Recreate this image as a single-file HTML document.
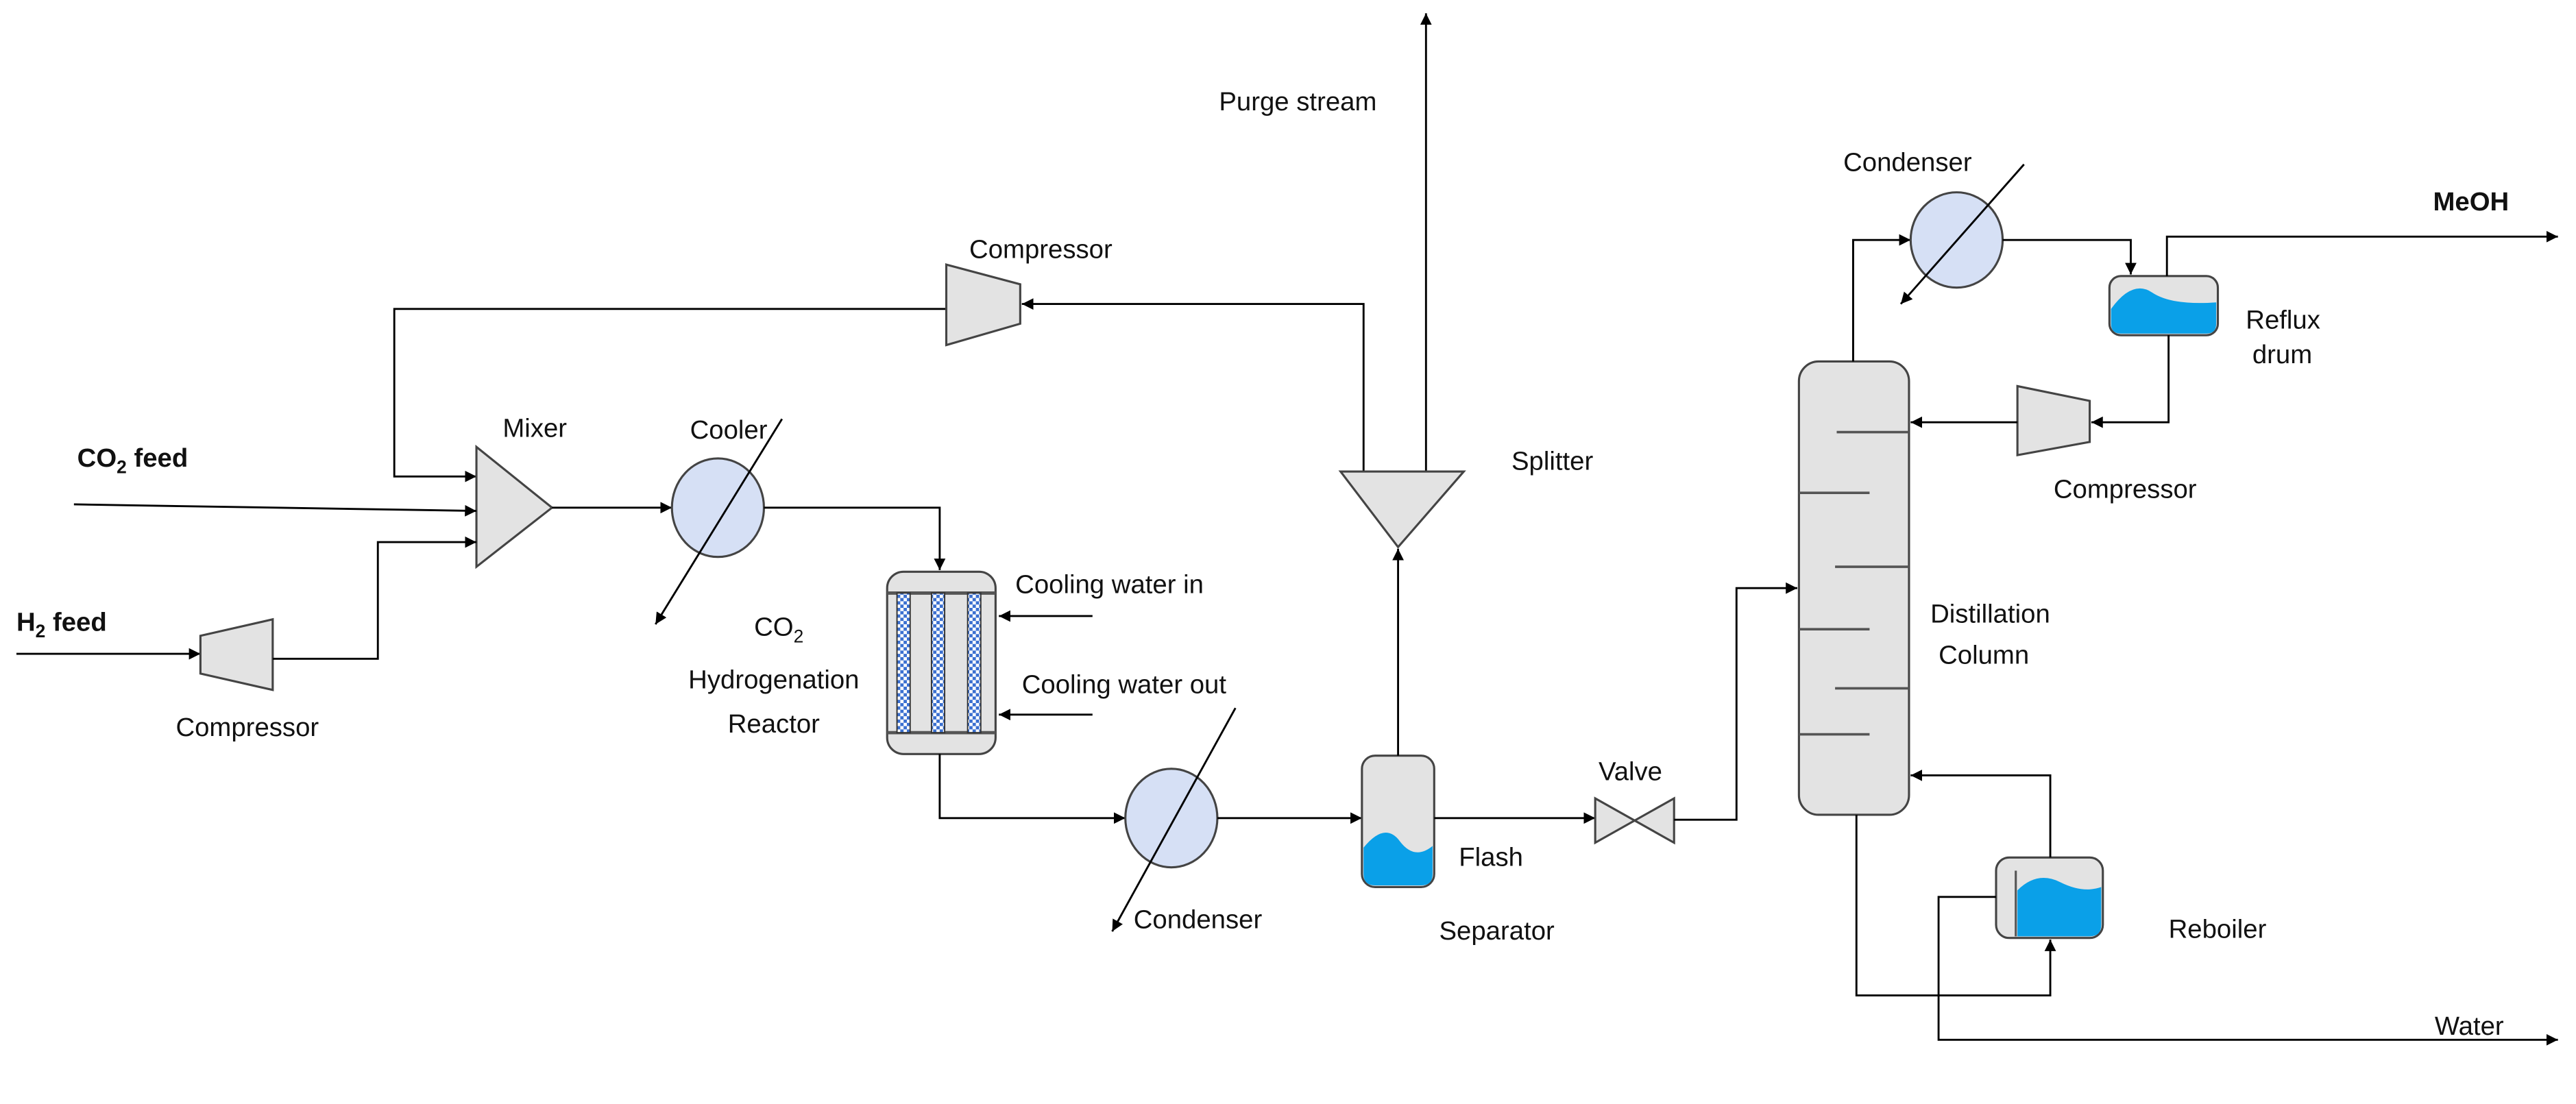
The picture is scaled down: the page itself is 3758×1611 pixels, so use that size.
<!DOCTYPE html>
<html><head><meta charset="utf-8"><style>
html,body{margin:0;padding:0;background:#fff}
svg{display:block}
text{font-family:"Liberation Sans",sans-serif;font-size:16px;fill:#111}
.b{font-weight:bold}
.l{stroke:#000;stroke-width:1.2;fill:none}
.e{fill:#e3e3e3;stroke:#444;stroke-width:1.3}
.h{fill:#d6e0f5;stroke:#444;stroke-width:1.3}
.w{fill:#0aa0e8}
</style></head><body>
<svg width="3758" height="1611" viewBox="0 0 1568 672" xmlns="http://www.w3.org/2000/svg">
<defs>
<marker id="a" viewBox="0 0 10 10" refX="10" refY="5" markerWidth="7" markerHeight="7" markerUnits="userSpaceOnUse" orient="auto"><path d="M0,0L10,5L0,10z" fill="#000"/></marker>
<pattern id="chk" width="4" height="4" patternUnits="userSpaceOnUse"><rect width="4" height="4" fill="#fff"/><rect width="2" height="2" fill="#3a6fd0"/><rect x="2" y="2" width="2" height="2" fill="#3a6fd0"/></pattern>
</defs>

<!-- purge -->
<path class="l" d="M868,287V8" marker-end="url(#a)"/>
<text x="742" y="67">Purge stream</text>
<!-- recycle -->
<path class="l" d="M830,287V185H622" marker-end="url(#a)"/>
<path class="l" d="M576,188H240V290H290" marker-end="url(#a)"/>
<polygon class="e" points="576,161 621,173 621,197 576,210"/>
<text x="590" y="157">Compressor</text>
<!-- mixer -->
<polygon class="e" points="290,272 290,345 336,309"/>
<text x="306" y="266">Mixer</text>
<path class="l" d="M45,307L290,311" marker-end="url(#a)"/>
<text x="47" y="284" class="b">CO<tspan font-size="11" dy="4">2</tspan><tspan dy="-4"> feed</tspan></text>
<!-- H2 -->
<path class="l" d="M10,398H122" marker-end="url(#a)"/>
<text x="10" y="384" class="b">H<tspan font-size="11" dy="4">2</tspan><tspan dy="-4"> feed</tspan></text>
<polygon class="e" points="122,387 166,377 166,420 122,410"/>
<path class="l" d="M166,401H230V330H290" marker-end="url(#a)"/>
<text x="107" y="448">Compressor</text>
<!-- cooler -->
<path class="l" d="M336,309H409" marker-end="url(#a)"/>
<ellipse class="h" cx="437" cy="309" rx="28" ry="30"/>
<path class="l" d="M476,255L399,380" marker-end="url(#a)"/>
<text x="420" y="267">Cooler</text>
<path class="l" d="M465,309H572V347" marker-end="url(#a)"/>
<!-- reactor -->
<rect class="e" x="540" y="348" width="66" height="111" rx="10"/>
<line x1="540" y1="361" x2="606" y2="361" stroke="#555" stroke-width="2"/>
<line x1="540" y1="446" x2="606" y2="446" stroke="#555" stroke-width="2"/>
<rect x="546" y="361" width="8" height="85" fill="url(#chk)" stroke="#333" stroke-width="0.8"/>
<rect x="567" y="361" width="8" height="85" fill="url(#chk)" stroke="#333" stroke-width="0.8"/>
<rect x="589" y="361" width="8" height="85" fill="url(#chk)" stroke="#333" stroke-width="0.8"/>
<text x="459" y="387">CO<tspan font-size="11" dy="4">2</tspan></text>
<text x="471" y="419" text-anchor="middle">Hydrogenation</text>
<text x="471" y="446" text-anchor="middle">Reactor</text>
<path class="l" d="M665,375H608" marker-end="url(#a)"/>
<path class="l" d="M665,435H608" marker-end="url(#a)"/>
<text x="618" y="361">Cooling water in</text>
<text x="622" y="422">Cooling water out</text>
<!-- condenser 1 -->
<path class="l" d="M572,459V498H685" marker-end="url(#a)"/>
<ellipse class="h" cx="713" cy="498" rx="28" ry="30"/>
<path class="l" d="M752,431L677,567" marker-end="url(#a)"/>
<text x="690" y="565">Condenser</text>
<path class="l" d="M741,498H829" marker-end="url(#a)"/>
<!-- flash -->
<rect class="e" x="829" y="460" width="44" height="80" rx="8"/>
<path class="w" d="M830,516Q843,500 852,512T872,515V532Q872,539 865,539H837Q830,539 830,532Z"/>
<text x="888" y="527">Flash</text>
<text x="876" y="572">Separator</text>
<path class="l" d="M851,460V334" marker-end="url(#a)"/>
<!-- splitter -->
<polygon class="e" points="816,287 891,287 851,333"/>
<text x="920" y="286">Splitter</text>
<!-- valve -->
<path class="l" d="M873,498H971" marker-end="url(#a)"/>
<polygon class="e" points="971,486 1019,513 1019,486 971,513"/>
<text x="973" y="475">Valve</text>
<path class="l" d="M1019,499H1057V358H1094" marker-end="url(#a)"/>
<!-- column -->
<rect class="e" x="1095" y="220" width="67" height="276" rx="12"/>
<g stroke="#555" stroke-width="1.5">
<line x1="1118" y1="263" x2="1162" y2="263"/><line x1="1095" y1="300" x2="1138" y2="300"/>
<line x1="1117" y1="345" x2="1162" y2="345"/><line x1="1095" y1="383" x2="1138" y2="383"/>
<line x1="1117" y1="419" x2="1162" y2="419"/><line x1="1095" y1="447" x2="1138" y2="447"/>
</g>
<text x="1175" y="379">Distillation</text>
<text x="1180" y="404">Column</text>
<!-- top condenser -->
<path class="l" d="M1128,220V146H1163" marker-end="url(#a)"/>
<ellipse class="h" cx="1191" cy="146" rx="28" ry="29"/>
<path class="l" d="M1232,100L1157,185" marker-end="url(#a)"/>
<text x="1122" y="104">Condenser</text>
<path class="l" d="M1219,146H1297V167" marker-end="url(#a)"/>
<!-- reflux drum -->
<rect class="e" x="1284" y="168" width="66" height="36" rx="7"/>
<path class="w" d="M1285,188Q1298,170 1310,178T1349,184V197Q1349,203 1343,203H1291Q1285,203 1285,197Z"/>
<text x="1367" y="200">Reflux</text>
<text x="1371" y="221">drum</text>
<path class="l" d="M1319,168V144H1557" marker-end="url(#a)"/>
<text x="1481" y="128" class="b">MeOH</text>
<path class="l" d="M1320,204V257H1273" marker-end="url(#a)"/>
<polygon class="e" points="1228,235 1272,244 1272,269 1228,277"/>
<path class="l" d="M1228,257H1163" marker-end="url(#a)"/>
<text x="1250" y="303">Compressor</text>
<!-- reboiler -->
<rect class="e" x="1215" y="522" width="65" height="49" rx="8"/>
<path class="w" d="M1228,542Q1240,530 1254,537T1279,540V563Q1279,570 1272,570H1228Z"/>
<line x1="1227" y1="530" x2="1227" y2="570" stroke="#555" stroke-width="1.3"/>
<text x="1320" y="571">Reboiler</text>
<path class="l" d="M1248,522V472H1163" marker-end="url(#a)"/>
<path class="l" d="M1130,496V606H1248V572" marker-end="url(#a)"/>
<path class="l" d="M1215,546H1180V633H1557" marker-end="url(#a)"/>
<text x="1482" y="630">Water</text>
</svg>
</body></html>
